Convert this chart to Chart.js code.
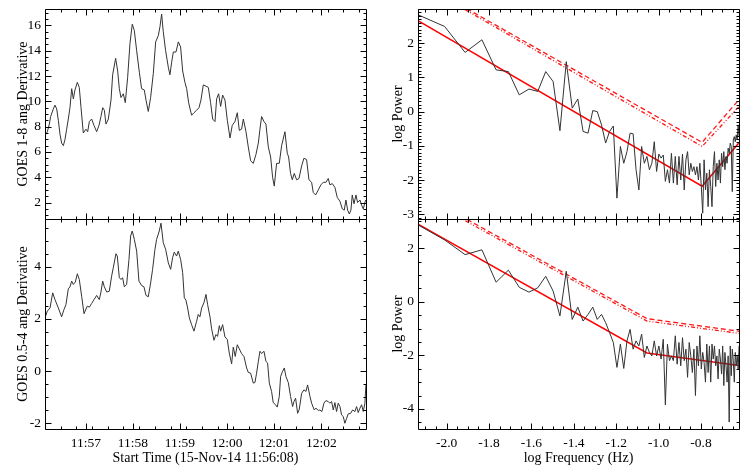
<!DOCTYPE html>
<html>
<head>
<meta charset="utf-8">
<script src="https://cdn.jsdelivr.net/npm/chart.js@4/dist/chart.umd.min.js"></script>
<style>
  html, body { margin: 0; padding: 0; background: #fff; }
  #wrap { position: relative; width: 747px; height: 467px; }
  #wrap canvas { position: absolute; left: 0; top: 0; }
</style>
</head>
<body>
<div id="wrap">
  <canvas id="goesLo" width="747" height="467"></canvas>
  <canvas id="goesHi" width="747" height="467"></canvas>
  <canvas id="specLo" width="747" height="467"></canvas>
  <canvas id="specHi" width="747" height="467"></canvas>
</div>
<script>
// ---- data ----
// seconds after 11:56:08
const loTimes = [0,3.0,5.5,7.2,10.6,12.7,14.9,17.0,19.1,21.2,23.4,25.5,27.6,29.7,31.8,34.0,36.1,38.2,41.2,43.7,
  45.9,48.8,52.2,54.4,56.5,59.4,62.4,65.8,68.8,71.3,73.5,75.6,77.7,80.7,84.1,86.2,90.0,92.6,94.7,96.8,
  99.8,102.3,105.3,108.3,111.2,113.8,116.8,120.2,123.1,126.5,128.7,131.6,134.6,138.0,141.0,144.4,146.5,148.6,150.7,153.7,
  157.1,159.2,161.4,163.5,166.9,169.9,172.8,175.4,178.3,180.5,183.0,186.8,189.8,193.2,196.2,198.7,201.7,205.1,208.1,211.0,
  213.6,216.6,218.7,221.2,223.8,226.3,229.3,232.3,235.7,238.6,242.0,245.0,247.6,250.5,252.7,256.1,259.0,262.0,265.4,268.8,
  271.8,273.9,276.0,279.0,281.5,284.5,287.5,290.0,292.1,295.1,298.5,301.5,305.7,308.7,310.4,312.9,315.1,317.6,320.6,323.6,
  327.0,329.9,333.3,336.3,339.7,341.8,344.8,348.2,351.6,354.5,358.0,360.9,363.0,366.0,369.4,372.4,375.8,378.8,381.3,383.4,
  385.6,387.7,389.8,391.5,393.7,396.2,398.3,401.3,403.4,405.5,408.5];
const loDeriv = [7.3,7.6,8.2,8.8,9.4,9.7,9.4,8.5,7.4,6.7,6.5,7.0,7.8,8.6,9.5,11.0,10.2,10.9,11.5,11.1,
  9.5,7.5,7.8,7.6,8.4,8.6,8.1,7.6,8.1,8.8,9.5,9.3,8.2,8.6,10.1,12.1,13.4,12.4,11.0,10.3,
  10.6,9.9,11.9,14.6,16.1,15.6,14.0,12.3,11.0,10.9,10.1,9.2,10.3,12.2,14.7,15.2,15.9,16.9,15.5,14.0,
  12.7,12.1,13.1,13.9,13.9,14.7,14.3,12.4,11.5,11.0,9.9,8.9,9.1,9.3,9.5,10.1,11.3,11.2,11.1,9.9,
  8.6,8.4,10.2,10.6,9.6,10.5,10.1,8.5,7.1,8.1,8.4,9.1,7.7,7.8,8.6,7.6,6.4,5.3,5.1,5.8,
  6.7,7.8,8.8,8.4,8.2,6.4,5.6,4.0,3.3,5.1,5.1,6.5,7.6,5.9,5.6,4.3,3.8,4.3,3.8,3.9,
  4.9,5.5,5.4,3.8,3.6,2.8,2.6,3.0,3.4,3.6,3.6,3.9,3.4,3.5,3.2,2.4,2.1,1.5,1.4,2.2,
  1.4,1.1,1.4,2.6,1.9,2.6,2.0,2.2,1.8,1.5,2.2];

const hiTimes = [0,3.0,6.4,9.8,12.7,17.0,21.2,24.2,26.7,29.7,31.8,34.0,36.1,38.6,41.2,43.7,46.7,49.7,52.2,53.9,
  56.5,59.4,62.4,65.8,69.2,71.3,73.5,75.6,78.6,81.9,84.9,87.0,90.4,92.1,94.7,96.8,98.9,101.1,104.0,107.0,
  109.1,111.2,113.8,116.8,119.7,123.1,126.1,128.7,131.6,134.6,137.1,140.1,142.2,145.6,147.8,150.7,153.7,157.1,160.1,162.6,
  164.7,167.7,169.8,172.8,175.4,177.5,179.6,181.7,183.9,186.8,189.8,193.2,195.3,197.4,199.6,202.5,205.1,207.2,210.2,212.3,
  215.3,217.8,219.9,222.1,223.8,226.3,229.3,232.3,234.8,237.8,239.9,242.4,245.0,247.6,250.5,253.5,256.9,259.0,262.0,265.4,
  267.5,269.6,271.8,273.9,276.0,279.0,281.5,283.6,285.8,288.7,290.8,293.8,295.9,298.5,300.2,302.3,304.9,307.0,310.0,312.9,
  315.5,317.2,319.3,321.9,324.0,327.0,329.9,332.5,334.6,337.6,339.7,343.1,345.2,348.2,350.3,352.8,355.4,357.9,360.9,363.0,
  365.2,367.3,369.4,371.5,373.6,375.8,377.9,380.0,382.1,384.3,386.4,389.4,391.9,394.9,397.0,399.1,401.3,403.4,405.5,407.6,408.9];
const hiDeriv = [2.04,2.3,2.42,3.0,2.74,2.42,2.08,2.36,2.55,3.15,3.23,3.45,3.32,3.41,3.73,3.51,2.87,2.2,2.38,2.49,
  2.45,2.59,2.74,2.9,2.74,3.03,3.45,3.23,3.03,3.06,3.64,3.96,4.5,4.41,3.58,3.51,3.58,3.23,3.32,4.28,
  5.18,5.37,5.05,4.6,3.45,3.28,3.23,2.9,2.85,3.38,3.9,4.67,5.05,5.37,5.67,4.92,4.67,4.15,3.9,4.35,
  4.56,4.41,4.6,4.28,3.77,2.81,2.72,2.42,2.04,1.78,1.53,1.91,2.17,2.08,2.42,2.62,2.94,2.55,2.08,1.62,
  1.18,1.4,1.33,1.74,1.53,1.78,1.31,1.21,0.69,0.28,0.92,0.56,1.01,0.85,0.67,0.56,0.12,-0.05,-0.08,-0.46,
  -0.44,-0.08,0.37,0.76,0.67,0.76,0.37,0.31,-0.46,-0.78,-1.21,-1.29,-1.38,-0.97,-0.21,-0.04,0.12,-0.21,-0.44,-0.97,
  -1.36,-1.17,-1.04,-1.62,-1.46,-0.85,-0.72,-0.78,-0.53,-0.97,-1.23,-1.49,-1.42,-1.51,-1.49,-1.55,-1.23,-1.13,-1.17,-1.23,
  -1.17,-1.49,-1.21,-1.55,-1.23,-1.36,-1.68,-1.74,-2.0,-1.81,-1.64,-1.62,-1.49,-1.55,-1.36,-1.59,-1.42,-1.29,-1.55,-1.23,-0.53];

// power spectra, frequency bins k = 3..98 of a 409 s series
const firstBin = 3;
const seriesLength = 409;
const loPower = [2.83,2.49,1.73,2.1,1.22,1.17,0.49,0.66,0.59,1.17,
  0.88,-0.56,1.46,0.1,0.37,-0.58,-0.63,0.03,0.0,-0.39,
  -0.92,-0.58,-0.42,-2.53,-1.02,-1.51,-1.17,-0.63,-0.65,-1.7,
  -2.29,-1.02,-1.51,-1.31,-1.7,-1.51,-0.88,-1.75,-1.24,-1.36,
  -1.27,-2.04,-1.7,-2.09,-1.22,-2.09,-1.31,-2.14,-1.31,-2.0,
  -1.24,-2.29,-1.41,-1.17,-1.85,-1.51,-1.75,-1.61,-1.85,-1.61,
  -2.0,-1.51,-2.19,-2.97,-1.41,-2.29,-1.8,-2.78,-1.7,-2.19,
  -2.78,-1.61,-1.17,-2.19,-1.51,-2.0,-1.41,-2.09,-1.22,-1.61,
  -1.17,-1.7,-1.31,-1.51,-1.07,-1.22,-0.92,-1.02,-2.34,-0.83,
  -0.73,-0.88,-0.68,-0.83,-0.39,-0.73];
const hiPower = [2.87,2.31,1.76,1.94,0.73,1.18,0.54,0.36,0.52,0.95,
  0.4,-0.53,1.14,-0.66,-0.2,-0.72,-0.47,-0.2,-0.66,-0.47,
  -0.78,-1.15,-1.52,-2.45,-1.58,-2.49,-1.46,-1.03,-1.77,-1.46,
  -1.65,-1.21,-2.08,-1.65,-1.89,-2.02,-1.46,-2.02,-1.65,-2.14,
  -1.4,-3.85,-1.58,-2.2,-2.02,-2.2,-1.27,-2.33,-1.52,-2.39,
  -1.34,-2.2,-1.77,-2.82,-1.52,-2.02,-2.64,-1.77,-3.5,-1.65,
  -2.39,-1.27,-2.51,-1.89,-2.26,-3.0,-1.58,-2.64,-1.65,-3.0,
  -1.58,-2.14,-1.65,-2.39,-2.02,-2.88,-1.77,-2.14,-2.7,-1.65,
  -3.13,-1.89,-2.39,-3.0,-2.02,-4.49,-1.65,-2.76,-1.77,-2.2,
  -3.0,-1.89,-2.39,-2.02,-2.51,-1.65];

// broken power-law fits and confidence levels (log f, log P)
const loFitX = [-2.135, -0.795, -0.621];
const loFitY = [2.66, -2.18, -0.91];
const loConfAY = [3.82, -0.90, 0.35];
const loConfBY = [3.78, -1.02, 0.15];
const hiFitX = [-2.135, -1.055, -0.621];
const hiFitY = [2.90, -1.91, -2.38];
const hiConfAY = [4.08, -0.63, -1.10];
const hiConfBY = [4.00, -0.72, -1.18];

// ticks
const timeTickSecs = [52, 112, 172, 232, 292, 352];
const timeTickLabels = ['11:57', '11:58', '11:59', '12:00', '12:01', '12:02'];
const freqTicks = [-2.0, -1.8, -1.6, -1.4, -1.2, -1.0, -0.8];
const freqTickLabels = ['-2.0', '-1.8', '-1.6', '-1.4', '-1.2', '-1.0', '-0.8'];
const loTicks = [2, 4, 6, 8, 10, 12, 14, 16];
const hiTicks = [-2, 0, 2, 4];
const loPowTicks = [-3, -2, -1, 0, 1, 2];
const hiPowTicks = [-4, -2, 0, 2];

// ---- drawing ----
const FONT = '13.5px "Liberation Serif", "Times New Roman", serif';
const TITLE_FONT = '14px "Liberation Serif", "Times New Roman", serif';

function steps(min, max, step) {
  const out = [];
  for (let i = Math.ceil(min / step - 1e-6); i * step <= max + 1e-6; i++) out.push(i * step);
  return out;
}

// IDL-style box: inward ticks on all four sides, labels outside
const idlFrame = {
  id: 'idlFrame',
  afterDatasetsDraw(chart, args, o) {
    const ctx = chart.ctx, a = chart.chartArea;
    const xs = chart.scales.x, ys = chart.scales.y;
    const L = Math.round(a.left) + 0.5, R = Math.round(a.right) + 0.5;
    const T = Math.round(a.top) + 0.5, B = Math.round(a.bottom) + 0.5;
    ctx.save();
    ctx.strokeStyle = '#000';
    ctx.lineWidth = 1;
    ctx.beginPath();
    ctx.rect(L, T, R - L, B - T);
    const xTick = (v, len) => {
      const p = Math.round(xs.getPixelForValue(v)) + 0.5;
      ctx.moveTo(p, B); ctx.lineTo(p, B - len);
      ctx.moveTo(p, T); ctx.lineTo(p, T + len);
    };
    const yTick = (v, len) => {
      const p = Math.round(ys.getPixelForValue(v)) + 0.5;
      ctx.moveTo(L, p); ctx.lineTo(L + len, p);
      ctx.moveTo(R, p); ctx.lineTo(R - len, p);
    };
    steps(xs.min, xs.max, o.xMinor).forEach(v => xTick(v, 3));
    o.xMajor.forEach(v => xTick(v, 6));
    steps(ys.min, ys.max, o.yMinor).forEach(v => yTick(v, 3));
    o.yMajor.forEach(v => yTick(v, 6));
    ctx.stroke();

    ctx.fillStyle = '#000';
    ctx.font = FONT;
    ctx.textAlign = 'right';
    ctx.textBaseline = 'middle';
    o.yMajor.forEach((v, i) => ctx.fillText(o.yLabels[i], a.left - 4, ys.getPixelForValue(v)));
    if (o.xLabels) {
      ctx.textAlign = 'center';
      o.xMajor.forEach((v, i) => ctx.fillText(o.xLabels[i], xs.getPixelForValue(v), a.bottom + 14));
    }
    ctx.font = TITLE_FONT;
    if (o.xTitle) {
      ctx.textAlign = 'center';
      ctx.fillText(o.xTitle, (a.left + a.right) / 2, a.bottom + 29);
    }
    ctx.save();
    ctx.translate(o.yTitleX, (a.top + a.bottom) / 2);
    ctx.rotate(-Math.PI / 2);
    ctx.textAlign = 'center';
    ctx.fillText(o.yTitle, 0, 0);
    ctx.restore();
    ctx.restore();
  }
};

function pairs(xv, yv) {
  return xv.map((x, i) => ({ x: x, y: yv[i] }));
}

function makePanel(id, box, ranges, datasets, frame) {
  new Chart(document.getElementById(id), {
    type: 'line',
    data: { datasets: datasets },
    options: {
      responsive: false,
      animation: false,
      events: [],
      layout: { padding: { left: box[0], top: box[1], right: 747 - box[2], bottom: 467 - box[3] } },
      plugins: { legend: { display: false }, tooltip: { enabled: false }, idlFrame: frame },
      elements: { point: { radius: 0 }, line: { tension: 0 } },
      scales: {
        x: { type: 'linear', display: false, min: ranges[0], max: ranges[1] },
        y: { type: 'linear', display: false, min: ranges[2], max: ranges[3] }
      }
    },
    plugins: [idlFrame]
  });
}

const dataLine = d => ({ data: d, borderColor: '#333333', borderWidth: 1 });
const fitLine = d => ({ data: d, borderColor: '#ff0000', borderWidth: 1.5 });
const confLine = (d, dash) => ({ data: d, borderColor: '#ff1a1a', borderWidth: 1.3, borderDash: dash });

const logFreq = loPower.map((_, i) => Math.log10((firstBin + i) / seriesLength));

makePanel('goesLo', [45, 9, 366, 219], [0, 409, 0.7, 17.3],
  [dataLine(pairs(loTimes, loDeriv))],
  { xMajor: timeTickSecs, xLabels: null, xMinor: 20,
    yMajor: loTicks, yLabels: loTicks.map(String), yMinor: 0.5,
    yTitle: 'GOES 1-8 ang Derivative', yTitleX: 23 });

makePanel('goesHi', [45, 219, 366, 429], [0, 409, -2.22, 5.83],
  [dataLine(pairs(hiTimes, hiDeriv))],
  { xMajor: timeTickSecs, xLabels: timeTickLabels, xMinor: 20,
    yMajor: hiTicks, yLabels: hiTicks.map(String), yMinor: 0.5,
    yTitle: 'GOES 0.5-4 ang Derivative', yTitleX: 23,
    xTitle: 'Start Time (15-Nov-14 11:56:08)' });

makePanel('specLo', [418, 9, 739, 219], [-2.135, -0.621, -3.14, 3.0],
  [dataLine(pairs(logFreq, loPower)),
   fitLine(pairs(loFitX, loFitY)),
   confLine(pairs(loFitX, loConfAY), [5, 3]),
   confLine(pairs(loFitX, loConfBY), [1, 2, 1, 2, 4, 2])],
  { xMajor: freqTicks, xLabels: null, xMinor: 0.05,
    yMajor: loPowTicks, yLabels: loPowTicks.map(String), yMinor: 0.1,
    yTitle: 'log Power', yTitleX: 398 });

makePanel('specHi', [418, 219, 739, 429], [-2.135, -0.621, -4.75, 3.09],
  [dataLine(pairs(logFreq, hiPower)),
   fitLine(pairs(hiFitX, hiFitY)),
   confLine(pairs(hiFitX, hiConfAY), [5, 3]),
   confLine(pairs(hiFitX, hiConfBY), [1, 2, 1, 2, 4, 2])],
  { xMajor: freqTicks, xLabels: freqTickLabels, xMinor: 0.05,
    yMajor: hiPowTicks, yLabels: hiPowTicks.map(String), yMinor: 0.5,
    yTitle: 'log Power', yTitleX: 398,
    xTitle: 'log Frequency (Hz)' });
</script>
</body>
</html>
